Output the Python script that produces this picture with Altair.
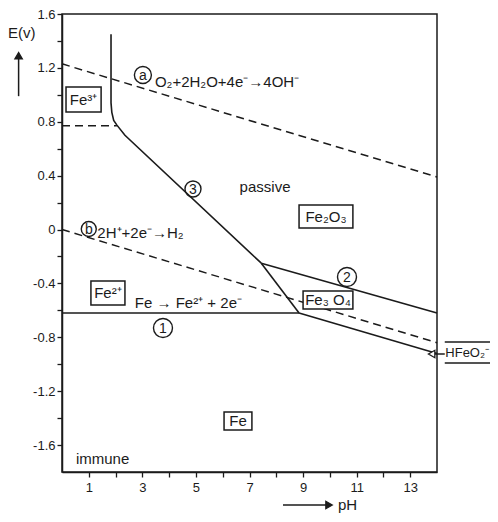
import altair as alt
import pandas as pd

INK = "#1b1b1b"
FONT = "Liberation Sans"

# ---- boundary lines (pH, E in volts) ----
line1_pH = [0.0, 8.85]
line1_E = [-0.62, -0.62]
line3_pH = [1.83, 1.83, 1.86, 1.93, 2.05, 2.35, 7.44]
line3_E = [1.45, 0.94, 0.87, 0.81, 0.775, 0.70, -0.25]
line3b_pH = [7.44, 8.85]
line3b_E = [-0.25, -0.62]
line2_pH = [7.44, 14.0]
line2_E = [-0.25, -0.62]
line4_pH = [8.85, 14.0]
line4_E = [-0.62, -0.92]

dash_a_pH = [0.0, 14.0]
dash_a_E = [1.23, 0.39]
dash_b_pH = [0.0, 14.0]
dash_b_E = [0.0, -0.84]
dash_fe3_pH = [0.0, 2.05]
dash_fe3_E = [0.77, 0.77]

# ---- axis ticks ----
X_TICKS = list(range(1, 14))
Y_TICKS = [round(-1.6 + 0.2 * i, 1) for i in range(17)]


def build(lines):
    rows = []
    for name, (xv, yv) in lines.items():
        for i, (a, b) in enumerate(zip(xv, yv)):
            rows.append({"line": name, "i": i, "pH": a, "E": b})
    return pd.DataFrame(rows)


solid_df = build({
    "1": (line1_pH, line1_E),
    "3": (line3_pH, line3_E),
    "3b": (line3b_pH, line3b_E),
    "2": (line2_pH, line2_E),
    "4": (line4_pH, line4_E),
})
dashed_df = build({
    "a": (dash_a_pH, dash_a_E),
    "b": (dash_b_pH, dash_b_E),
    "fe3": (dash_fe3_pH, dash_fe3_E),
})

# ---- annotations ----
box_labels = ["Fe³⁺", "Fe₂O₃", "Fe²⁺", "Fe₃ O₄", "Fe"]
box_x1 = [0.15, 8.85, 1.08, 9.00, 6.05]
box_x2 = [1.46, 10.86, 2.35, 10.86, 7.09]
box_y1 = [1.058, 0.182, -0.382, -0.456, -1.355]
box_y2 = [0.872, 0.011, -0.560, -0.590, -1.488]
boxes = pd.DataFrame({"t": box_labels, "pH": box_x1, "x2": box_x2,
                      "E": box_y1, "y2": box_y2})
box_txt = pd.DataFrame({"t": box_labels,
                        "pH": [(a + b) / 2 for a, b in zip(box_x1, box_x2)],
                        "E": [(a + b) / 2 for a, b in zip(box_y1, box_y2)]})

circ_labels = ["a", "b", "1", "2", "3"]
circ_pH = [3.02, 1.00, 3.77, 10.64, 4.89]
circ_E = [1.147, 0.004, -0.731, -0.352, 0.301]
circ_d = [17, 15, 19, 19, 16]
circles = pd.DataFrame({"t": circ_labels, "pH": circ_pH, "E": circ_E,
                        "s": [d * d for d in circ_d]})

left_texts = ["O₂+2H₂O+4e⁻→4OH⁻", "2H⁺+2e⁻→H₂", "Fe → Fe²⁺ + 2e⁻",
              "immune", "pH"]
left_pH = [3.47, 1.32, 2.72, 0.52, 10.3]
left_E = [1.095, -0.026, -0.545, -1.70, -2.045]
left_df = pd.DataFrame({"t": left_texts, "pH": left_pH, "E": left_E})

side_df = pd.DataFrame({"t": ["HFeO₂⁻"], "pH": [14.31], "E": [-0.918]})

center_texts = ["passive", "E(v)"]
center_pH = [7.58, -1.50]
center_E = [0.316, 1.459]
center_df = pd.DataFrame({"t": center_texts, "pH": center_pH, "E": center_E})

# arrows / rules
rules = pd.DataFrame({
    "pH": [14.29, 14.29, 14.29, -1.62, 8.25],
    "x2": [13.82, 16.2, 16.2, -1.62, 10.0],
    "E": [-0.924, -0.835, -0.991, 0.99, -2.045],
    "y2": [-0.924, -0.835, -0.991, 1.29, -2.045],
})
heads = pd.DataFrame({
    "pH": [13.80, -1.62, 9.97],
    "E": [-0.924, 1.29, -2.045],
    "shape": ["triangle-left", "triangle-up", "triangle-right"],
    "fill": ["white", INK, INK],
})

xs = alt.Scale(domain=[0, 14], nice=False, zero=False)
ys = alt.Scale(domain=[-1.8, 1.6], nice=False, zero=False)

xaxis = alt.Axis(values=X_TICKS, labelExpr="datum.value % 2 == 1 ? datum.label : ''",
                 tickSize=5, labelPadding=4, grid=False, title=None,
                 domainColor=INK, tickColor=INK, labelColor=INK, labelFontSize=13,
                 labelFont=FONT, domainWidth=1.5, tickWidth=1.3)
yaxis = alt.Axis(values=Y_TICKS,
                 labelExpr="abs(round(datum.value*10)) % 4 == 0 ? replace(format(datum.value, '.1~f'), '\u2212', '-') : ''",
                 tickSize=5, labelPadding=2, grid=False, title=None,
                 domainColor=INK, tickColor=INK, labelColor=INK, labelFontSize=13,
                 labelFont=FONT, domainWidth=1.5, tickWidth=1.3)

X = alt.X("pH:Q", scale=xs, axis=xaxis)
Y = alt.Y("E:Q", scale=ys, axis=yaxis)

solid = alt.Chart(solid_df).mark_line(color=INK, strokeWidth=1.6).encode(
    x=X, y=Y, detail="line:N", order="i:Q")
dashed = alt.Chart(dashed_df).mark_line(color=INK, strokeWidth=1.5, strokeDash=[8, 5]).encode(
    x=X, y=Y, detail="line:N", order="i:Q")

box_layer = alt.Chart(boxes).mark_rect(fill="white", stroke=INK, strokeWidth=1.5).encode(
    x=X, x2="x2:Q", y=Y, y2="y2:Q")
box_text = alt.Chart(box_txt).mark_text(font=FONT, fontSize=15, color=INK, align="center",
                                        baseline="middle").encode(x=X, y=Y, text="t:N")

circ_layer = alt.Chart(circles).mark_point(shape="circle", filled=False, color=INK,
                                           strokeWidth=1.4, opacity=1).encode(
    x=X, y=Y, size=alt.Size("s:Q", scale=None))
circ_text = alt.Chart(circles).mark_text(font=FONT, fontSize=14, color=INK, align="center",
                                         baseline="middle", dy=1).encode(x=X, y=Y, text="t:N")

left_layer = alt.Chart(left_df).mark_text(font=FONT, fontSize=15, color=INK, align="left",
                                          baseline="middle").encode(x=X, y=Y, text="t:N")
side_layer = alt.Chart(side_df).mark_text(font=FONT, fontSize=13, color=INK, align="left",
                                          baseline="middle").encode(x=X, y=Y, text="t:N")
center_layer = alt.Chart(center_df).mark_text(font=FONT, fontSize=15, color=INK, align="center",
                                              baseline="middle").encode(x=X, y=Y, text="t:N")

rule_layer = alt.Chart(rules).mark_rule(color=INK, strokeWidth=1.5).encode(
    x=X, x2="x2:Q", y=Y, y2="y2:Q")
head_layer = alt.Chart(heads).mark_point(size=55, strokeWidth=1.3, stroke=INK, opacity=1).encode(
    x=X, y=Y,
    shape=alt.Shape("shape:N", scale=None), fill=alt.Fill("fill:N", scale=None))

chart = alt.layer(
    solid, dashed, box_layer, box_text, circ_layer, circ_text,
    left_layer, side_layer, center_layer, rule_layer, head_layer
).properties(
    width=375, height=458, autosize="none",
    padding={"left": 54, "top": 6, "right": 53, "bottom": 42},
    background="white",
).configure_view(stroke=INK, strokeWidth=1.5)

chart.save("out.html", embed_options={"renderer": "svg", "actions": False})
